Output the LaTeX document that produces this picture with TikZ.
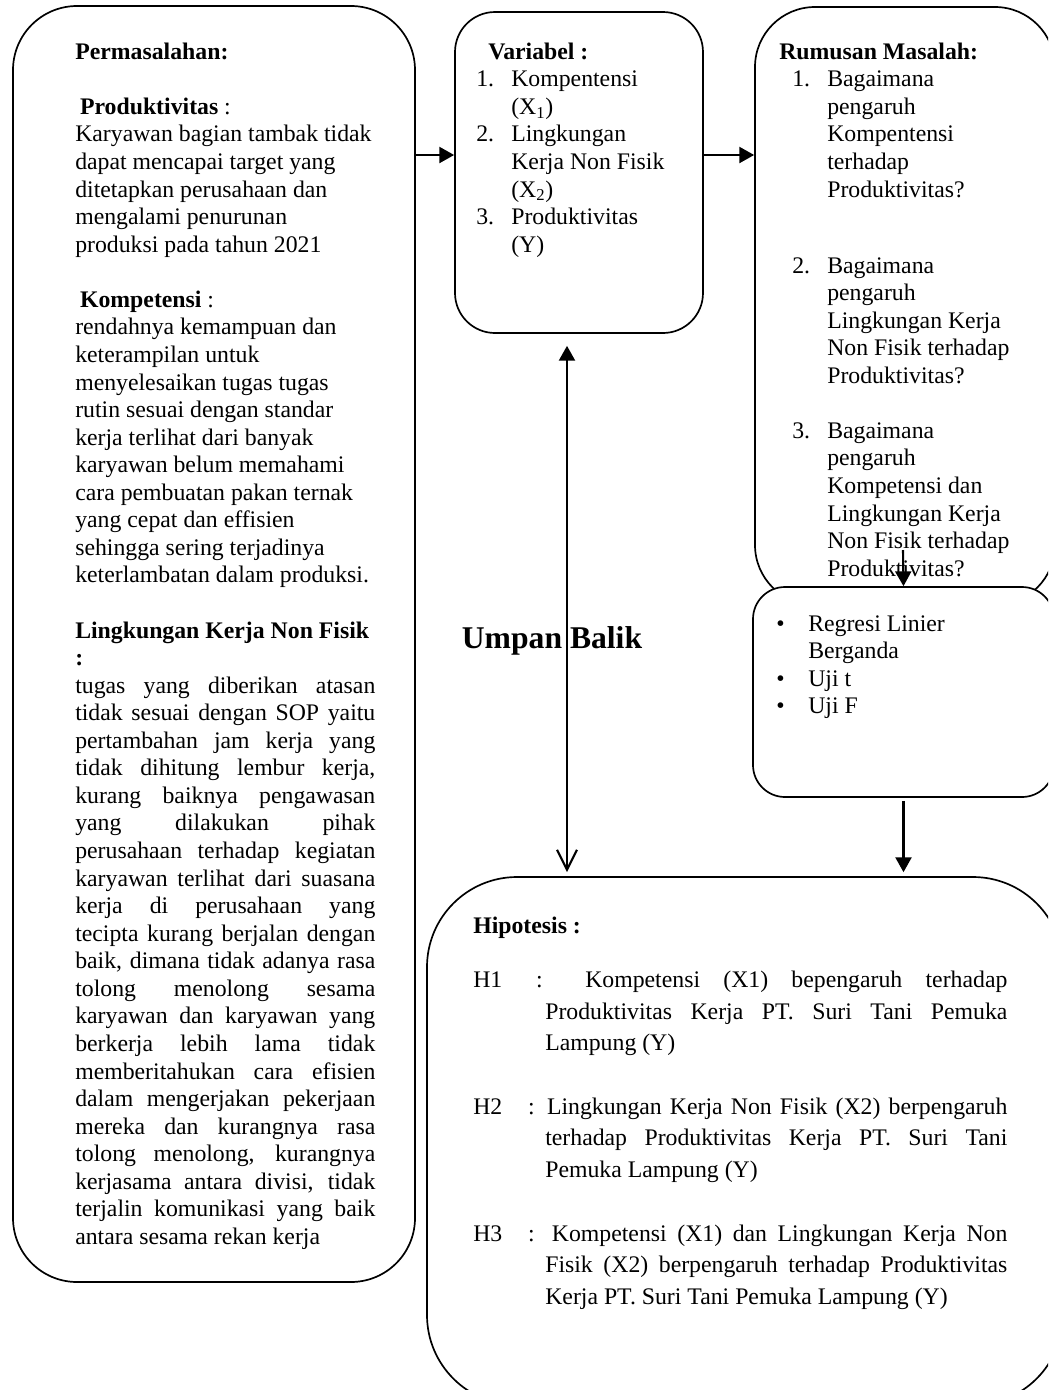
\documentclass[tikz,border=0pt]{standalone}
\usepackage{fontspec}
\setmainfont{Liberation Serif}
\usepackage{tikz}
\usetikzlibrary{positioning, fit, arrows.meta}

\newcommand{\bodyfont}{\fontsize{16.9}{19.6}\selectfont}
\newcommand{\hipfont}{\fontsize{16.9}{22.4}\selectfont}
\newcommand{\tstrut}{\rule{0pt}{14pt}}
\newcommand{\lab}[1]{\makebox[0.875cm][l]{#1}}
\newcommand{\ind}{\hspace*{0.875cm}}
\newcommand{\rlab}[1]{\hspace*{0.325cm}\lab{#1}}
\newcommand{\rind}{\hspace*{1.2cm}}
\newcommand{\blt}{\makebox[0.8cm][l]{\textbullet}}

\begin{document}
\begin{tikzpicture}[x=0.025cm, y=-0.025cm,
  box/.style={draw, line width=1.2pt, inner sep=0pt, fill=white},
  arr/.style={line width=1.5pt, -{Triangle[length=0.37cm, width=0.4cm]}},
  fb/.style={line width=1.5pt, {Triangle[length=0.37cm, width=0.4cm]}-{Straight Barb[length=0.5cm, width=0.5cm]}},
  txt/.style={inner sep=0pt, anchor=north west, font=\bodyfont}]
\useasboundingbox (0,0) rectangle (1048,1390);
\clip (0,0) rectangle (1048,1390);

\node[box, rounded corners=1.6cm, fit={(13,6) (415,1282)}] (perm) {};
\node[box, rounded corners=1cm, fit={(455,12) (703,333)}] (var) {};
\node[box, rounded corners=1.5cm, fit={(755,7) (1055,605)}] (rum) {};

\node[txt, text width=7.5cm, align=justify] (permtxt) at (75,39.3) {%
\hyphenpenalty=10000 \exhyphenpenalty=10000 \tolerance=10000
\tstrut\textbf{Permasalahan:}\\[19.6pt]
\hspace*{0.12cm}\textbf{Produktivitas} :\\
Karyawan bagian tambak tidak\\
dapat mencapai target yang\\
ditetapkan perusahaan dan\\
mengalami penurunan\\
produksi pada tahun 2021\\[19.6pt]
\hspace*{0.12cm}\textbf{Kompetensi} :\\
rendahnya kemampuan dan\\
keterampilan untuk\\
menyelesaikan tugas tugas\\
rutin sesuai dengan standar\\
kerja terlihat dari banyak\\
karyawan belum memahami\\
cara pembuatan pakan ternak\\
yang cepat dan effisien\\
sehingga sering terjadinya\\
keterlambatan dalam produksi.\\[19.6pt]
\textbf{Lingkungan Kerja Non Fisik}\\
\textbf{:}\\
tugas yang diberikan atasan\linebreak
tidak sesuai dengan SOP yaitu\linebreak
pertambahan jam kerja yang\linebreak
tidak dihitung lembur kerja,\linebreak
kurang baiknya pengawasan\linebreak
yang dilakukan pihak\linebreak
perusahaan terhadap kegiatan\linebreak
karyawan terlihat dari suasana\linebreak
kerja di perusahaan yang\linebreak
tecipta kurang berjalan dengan\linebreak
baik, dimana tidak adanya rasa\linebreak
tolong menolong sesama\linebreak
karyawan dan karyawan yang\linebreak
berkerja lebih lama tidak\linebreak
memberitahukan cara efisien\linebreak
dalam mengerjakan pekerjaan\linebreak
mereka dan kurangnya rasa\linebreak
tolong menolong, kurangnya\linebreak
kerjasama antara divisi, tidak\linebreak
terjalin komunikasi yang baik\linebreak
antara sesama rekan kerja};

\node[txt, align=left] (vartxt) at (476,39.3) {%
\tstrut\hspace*{0.3cm}\textbf{Variabel :}\\
\lab{1.}Kompentensi\\
\ind(X\textsubscript{1})\\
\lab{2.}Lingkungan\\
\ind Kerja Non Fisik\\
\ind(X\textsubscript{2})\\
\lab{3.}Produktivitas\\
\ind(Y)};

\node[txt, align=left] (rumtxt) at (779,39.3) {%
\tstrut\textbf{Rumusan Masalah:}\\
\rlab{1.}Bagaimana\\
\rind pengaruh\\
\rind Kompentensi\\
\rind terhadap\\
\rind Produktivitas?\\[34.4pt]
\rlab{2.}Bagaimana\\
\rind pengaruh\\
\rind Lingkungan Kerja\\
\rind Non Fisik terhadap\\
\rind Produktivitas?\\[19.6pt]
\rlab{3.}Bagaimana\\
\rind pengaruh\\
\rind Kompetensi dan\\
\rind Lingkungan Kerja\\
\rind Non Fisik terhadap\\
\rind Produktivitas?};

\node[box, rounded corners=0.8cm, fit={(753,587) (1054,797)}] (reg) {};
\node[txt, align=left] (regtxt) at (776,611.3) {%
\tstrut\blt Regresi Linier\\
\hspace*{0.8cm}Berganda\\
\blt Uji t\\
\blt Uji F};

\node[box, rounded corners=2.25cm, fit={(427,877) (1063,1405)}] (hip) {};
\node[txt, text width=13.35cm, align=justify, font=\hipfont] (hiptxt) at (473,913.6) {%
\noindent\tstrut\textbf{Hipotesis :}\par\vspace{16pt}
\noindent\hangindent=1.8cm\hangafter=1
\makebox[1.57cm][l]{H1}: Kompetensi (X1) bepengaruh terhadap\linebreak
Produktivitas Kerja PT. Suri Tani Pemuka\linebreak
Lampung (Y)\par\vspace{23pt}
\noindent\hangindent=1.8cm\hangafter=1
\makebox[1.37cm][l]{H2}: Lingkungan Kerja Non Fisik (X2) berpengaruh\linebreak
terhadap Produktivitas Kerja PT. Suri Tani\linebreak
Pemuka Lampung (Y)\par\vspace{23pt}
\noindent\hangindent=1.8cm\hangafter=1
\makebox[1.37cm][l]{H3}: Kompetensi (X1) dan Lingkungan Kerja Non\linebreak
Fisik (X2) berpengaruh terhadap Produktivitas\linebreak
Kerja PT. Suri Tani Pemuka Lampung (Y)\par};

\node[inner sep=0pt, anchor=base, font=\fontsize{22.5}{27}\selectfont\bfseries] (umpan) at (552,648) {Umpan Balik};

\coordinate (lvl) at (0,155);
\coordinate (fbx) at (567,0);
\coordinate (rumtail) at (903,550);
\draw[arr] (perm.east |- lvl) -- (var.west |- lvl);
\draw[arr] (var.east |- lvl) -- (rum.west |- lvl);
\draw[arr] (rumtail) -- (reg.north);
\draw[arr, shorten <=0.075cm, shorten >=0.1cm] (reg.south) -- (reg.south |- hip.north);
\draw[fb, shorten <=0.3cm, shorten >=0.1cm] (var.south -| fbx) -- (hip.north -| fbx);
\end{tikzpicture}
\end{document}
